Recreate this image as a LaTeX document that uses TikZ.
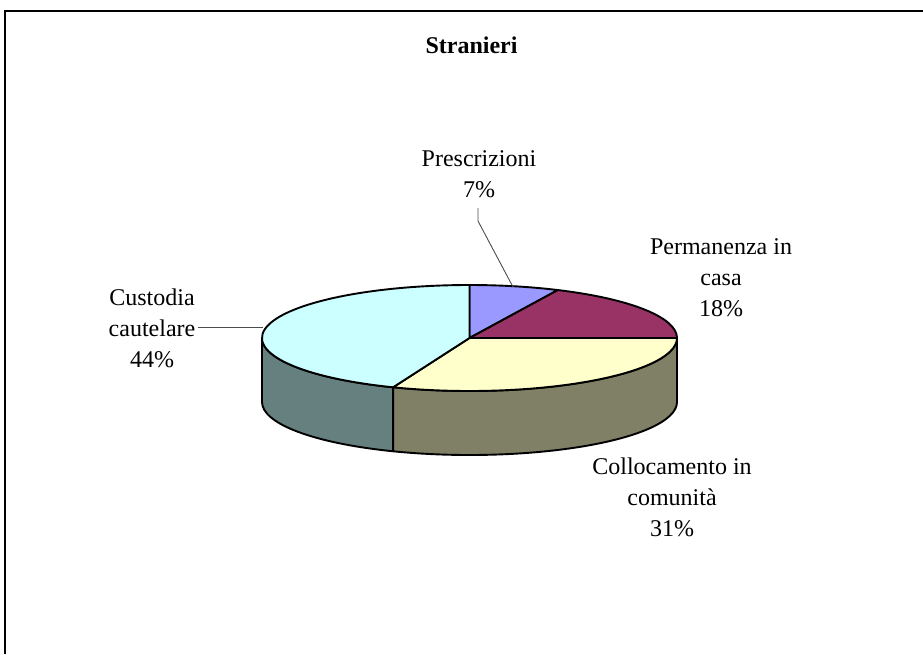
\documentclass[tikz,border=0pt]{standalone}
\usepackage{fontspec}
\setmainfont{Liberation Serif}
\usetikzlibrary{calc}
\definecolor{cPresc}{HTML}{9999FF}
\definecolor{cPerm}{HTML}{993366}
\definecolor{cColl}{HTML}{FFFFCC}
\definecolor{cCust}{HTML}{CCFFFF}
\definecolor{sColl}{HTML}{808066}
\definecolor{sCust}{HTML}{668080}
\tikzset{
  lbl/.style={align=center, inner sep=0pt, font=\fontsize{24}{31}\selectfont},
  ttl/.style={inner sep=0pt, font=\fontsize{24}{29}\selectfont\bfseries},
  slice/.style={draw=black, line width=1.9pt, line join=round},
  er/.style={x radius=207.5, y radius=53},
  leader/.style={draw=black!70, line width=0.9pt},
  frame/.style={draw=black, line width=1.8pt}
}
\begin{document}
\begin{tikzpicture}[x=1pt,y=-1pt]
\useasboundingbox (0,0) rectangle (923,654);
% frame
\coordinate (fbl) at (5,654);
\coordinate (ftl) at (5,11);
\coordinate (ftr) at (923,11);
\draw[frame] (fbl) -- (ftl) -- (ftr);
% title
\node[ttl, anchor=base] (title) at (471.5,53) {Stranieri};
% pie
\begin{scope}[shift={(469.5,338)}, yscale=-1]
  % side faces
  \path[slice, fill=sCust] (180:207.5 and 53) arc[er, start angle=180, end angle=248.4]
     -- ++(0,-64) arc[er, start angle=248.4, end angle=180] -- cycle;
  \path[slice, fill=sColl] (248.4:207.5 and 53) arc[er, start angle=248.4, end angle=360]
     -- ++(0,-64) arc[er, start angle=360, end angle=248.4] -- cycle;
  % top slices
  \coordinate (pc) at (0,0);
  \path[slice, fill=cPresc] (pc) -- (90:207.5 and 53) arc[er, start angle=90, end angle=64.8] -- cycle;
  \path[slice, fill=cPerm] (pc) -- (64.8:207.5 and 53) arc[er, start angle=64.8, end angle=0] -- cycle;
  \path[slice, fill=cColl] (pc) -- (0:207.5 and 53) arc[er, start angle=0, end angle=-111.6] -- cycle;
  \path[slice, fill=cCust] (pc) -- (248.4:207.5 and 53) arc[er, start angle=248.4, end angle=90] -- cycle;
\end{scope}
% labels
\node[lbl] (presc) at (479,174.5) {Prescrizioni\\7\%};
\node[lbl] (perm) at (721,277.5) {Permanenza in\\casa\\18\%};
\node[lbl] (coll) at (672,497.8) {Collocamento in\\comunità\\31\%};
\node[lbl] (cust) at (152,328.5) {Custodia\\cautelare\\44\%};
% leaders
\coordinate (p1) at (478,208);
\coordinate (p2) at (478,221);
\coordinate (p3) at (513,287);
\draw[leader] (p1) -- (p2) -- (p3);
\coordinate (c1) at (198,327);
\coordinate (c2) at (263,327);
\draw[leader] (c1) -- (c2);
\end{tikzpicture}
\end{document}
